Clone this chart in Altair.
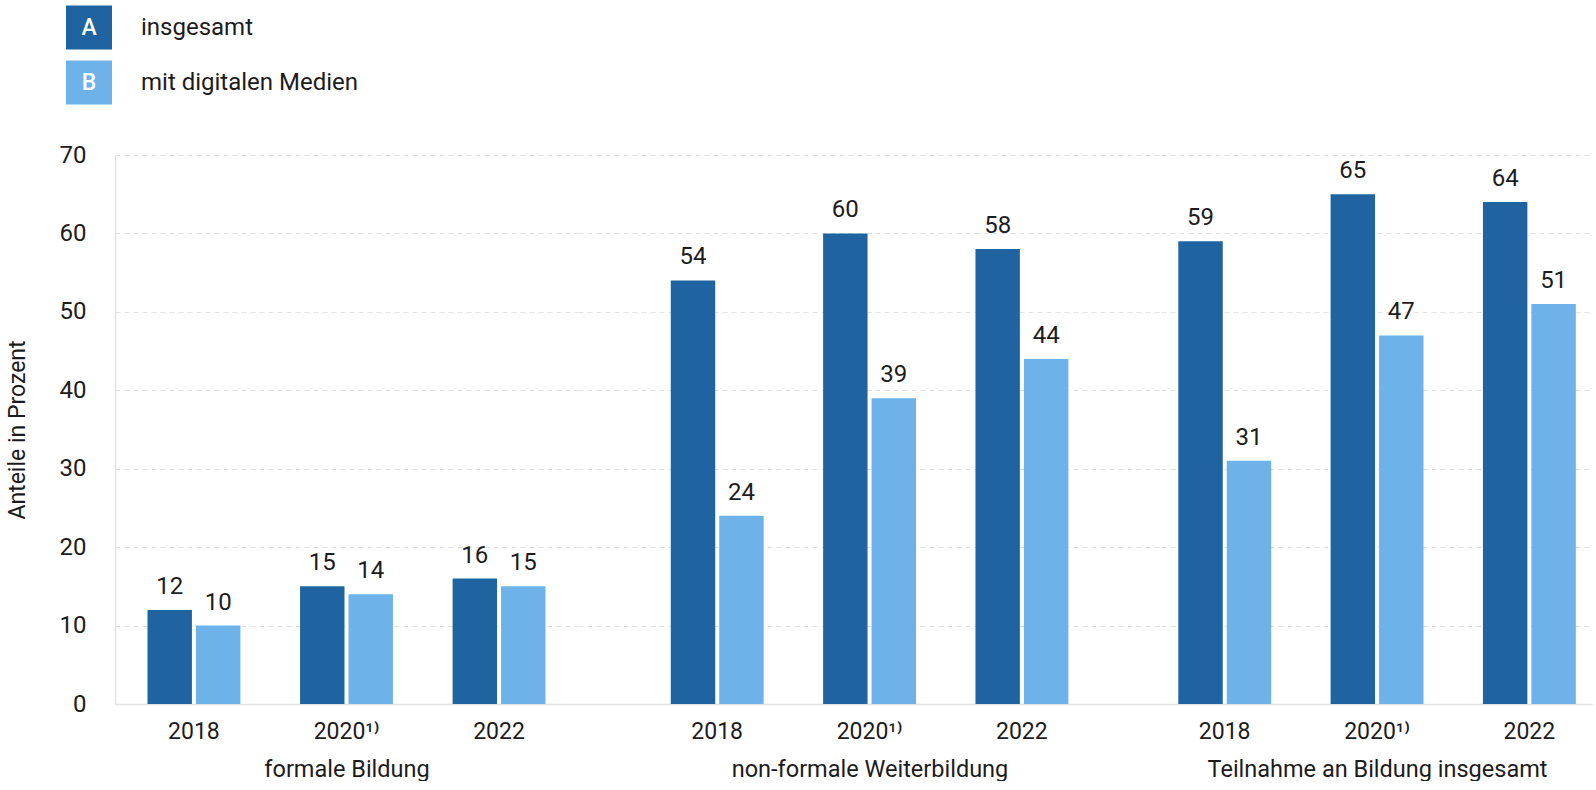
import altair as alt
import pandas as pd

# Categories and values
groups = ["formale Bildung", "non-formale Weiterbildung", "Teilnahme an Bildung insgesamt"]
years = ["2018", "2020¹⁾", "2022"]
series = ["insgesamt", "mit digitalen Medien"]
series_keys = ["A", "B"]
insgesamt = [[12, 15, 16], [54, 60, 58], [59, 65, 64]]
digital = [[10, 14, 15], [24, 39, 44], [31, 47, 51]]
y_ticks = [0, 10, 20, 30, 40, 50, 60, 70]

# Styling
COLORS = ["#1f64a0", "#6db3ea"]
FONT = "Roboto"
TEXT = "#1c1c1c"
GRID = "#e2e2e2"
PLOT_H = 549
PANEL_W = [463, 583, 432]
OUTER_PAD = [0.213, 0.609, 0.1136]

rows = []
for g, name in enumerate(groups):
    for i, yr in enumerate(years):
        rows.append({"group": name, "year": yr, "series": series[0], "value": insgesamt[g][i]})
        rows.append({"group": name, "year": yr, "series": series[1], "value": digital[g][i]})
df = pd.DataFrame(rows)

y_scale = alt.Scale(domain=[0, 70], nice=False)
color_scale = alt.Scale(domain=series, range=COLORS)
offset_scale = alt.Scale(paddingInner=0.083, paddingOuter=0)


def panel(idx):
    name = groups[idx]
    data = df[df["group"] == name]
    x = alt.X(
        "year:N",
        sort=years,
        scale=alt.Scale(paddingInner=0.391, paddingOuter=OUTER_PAD[idx]),
        axis=alt.Axis(
            title=name, labelAngle=0, ticks=False, tickSize=0, domain=True,
            domainColor=GRID, domainWidth=1.5, labelPadding=16, titlePadding=14,
            labelFontSize=23, titleFontSize=23.5, grid=False,
        ),
    )
    if idx == 0:
        y_axis = alt.Axis(
            title="Anteile in Prozent", values=y_ticks, ticks=False, tickSize=0,
            domain=True, domainColor=GRID, domainWidth=1.5, labelPadding=29,
            titlePadding=30, labelFontSize=24, titleFontSize=23,
            gridColor=GRID, gridDash=[5, 4], gridWidth=1,
        )
    else:
        y_axis = alt.Axis(
            title=None, values=y_ticks, labels=False, ticks=False, domain=False,
            gridColor=GRID, gridDash=[5, 4], gridWidth=1,
        )
    base = alt.Chart(data).encode(
        x=x,
        xOffset=alt.XOffset("series:N", sort=series, scale=offset_scale),
    )
    bars = base.mark_bar().encode(
        y=alt.Y("value:Q", scale=y_scale, axis=y_axis),
        color=alt.Color("series:N", scale=color_scale, legend=None),
    )
    labels = base.mark_text(
        baseline="alphabetic", dy=-16, fontSize=24, font=FONT, color=TEXT
    ).encode(
        y=alt.Y("value:Q", scale=y_scale),
        text=alt.Text("value:Q"),
    )
    return alt.layer(bars, labels).properties(width=PANEL_W[idx], height=PLOT_H)


# Custom legend: lettered swatches with labels
legend_df = pd.DataFrame({"key": series_keys, "series": series})
ly = alt.Y(
    "series:N", sort=series, axis=None,
    scale=alt.Scale(type="band", paddingInner=0.2, paddingOuter=0.1),
)
leg_box = alt.Chart(legend_df).mark_rect().encode(
    x=alt.value(-49), x2=alt.value(-3), y=ly,
    color=alt.Color("series:N", scale=color_scale, legend=None),
)
leg_key = alt.Chart(legend_df).mark_text(
    font=FONT, fontSize=23, fontWeight=500, color="white", align="center", baseline="middle"
).encode(x=alt.value(-26), y=ly, text="key:N")
leg_label = alt.Chart(legend_df).mark_text(
    font=FONT, fontSize=24, color=TEXT, align="left", baseline="middle"
).encode(x=alt.value(26), y=ly, text="series:N")
legend = alt.layer(leg_box, leg_key, leg_label).properties(width=300, height=110)

panels = alt.hconcat(*[panel(i) for i in range(3)], spacing=0, bounds="flush")

chart = (
    alt.vconcat(legend, panels, spacing=45, bounds="flush")
    .properties(padding={"left": 6, "top": 0, "right": 0, "bottom": 0})
    .configure_view(stroke=None)
    .configure_axis(
        labelFont=FONT, titleFont=FONT, labelColor=TEXT, titleColor=TEXT,
        titleFontWeight="normal",
    )
)

chart.save("out.html", embed_options={"renderer": "svg", "actions": False})
